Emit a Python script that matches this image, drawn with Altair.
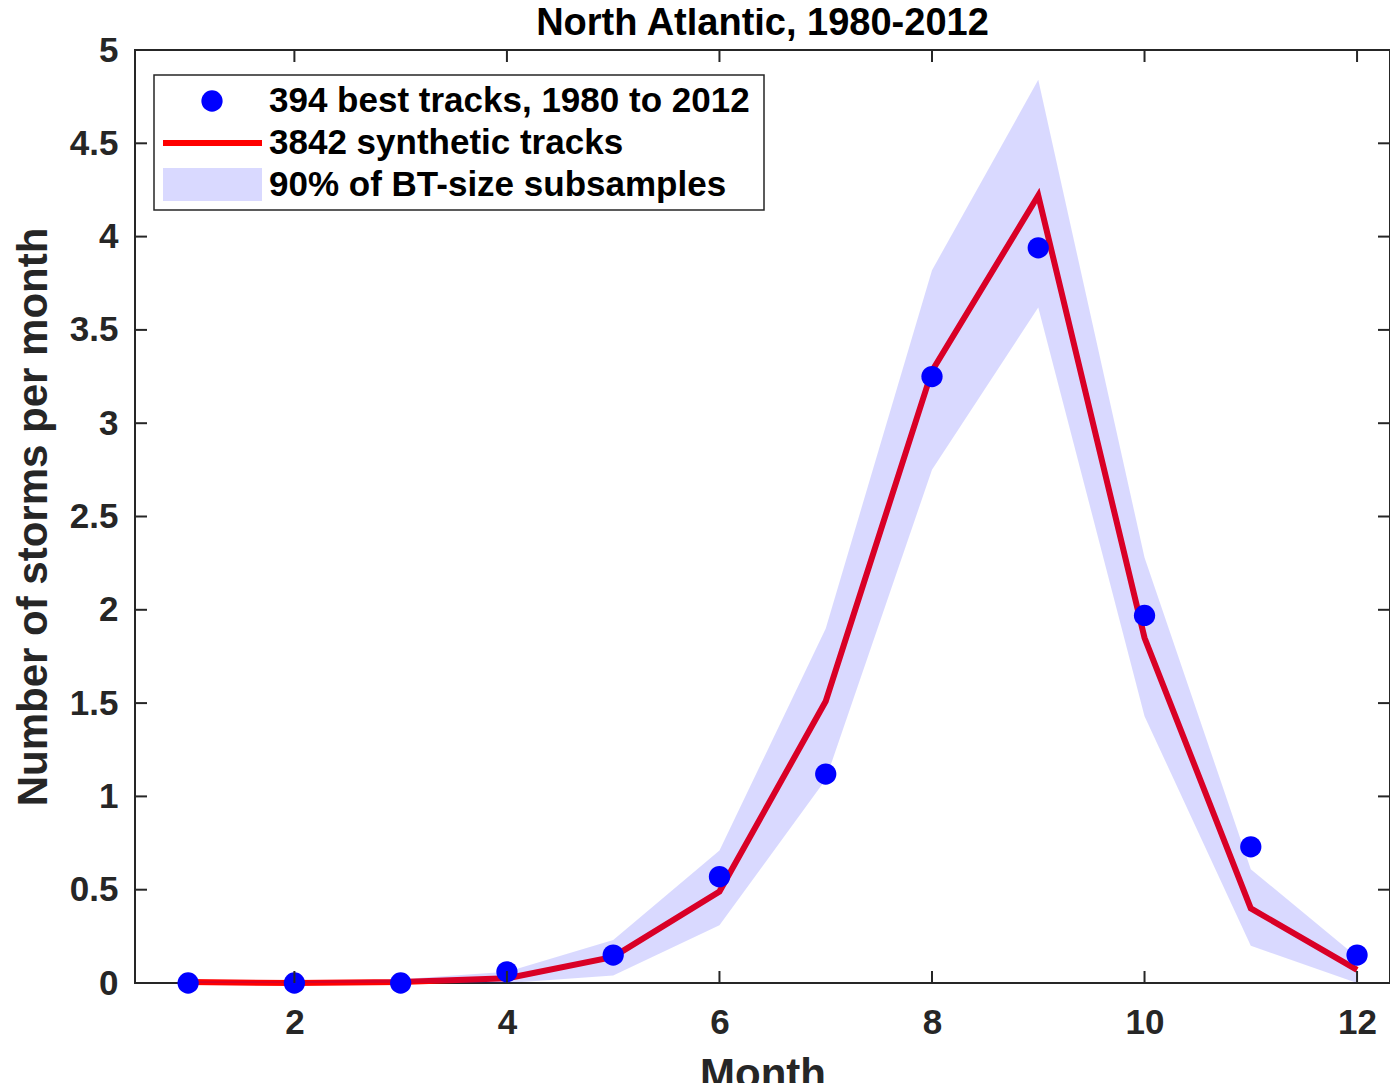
import altair as alt
import pandas as pd

# monthly values
months = list(range(1, 13))
best_tracks = [0.0, 0.0, 0.0, 0.06, 0.15, 0.57, 1.12, 3.25, 3.94, 1.97, 0.73, 0.15]
synthetic = [0.005, 0.0, 0.005, 0.025, 0.14, 0.49, 1.51, 3.28, 4.22, 1.85, 0.40, 0.07]
band_low = [0.0, 0.0, 0.0, 0.0, 0.04, 0.31, 1.09, 2.75, 3.62, 1.43, 0.20, 0.0]
band_high = [0.01, 0.01, 0.02, 0.06, 0.23, 0.71, 1.90, 3.82, 4.84, 2.28, 0.61, 0.14]

x_ticks = [2, 4, 6, 8, 10, 12]
y_ticks = [0, 0.5, 1, 1.5, 2, 2.5, 3, 3.5, 4, 4.5, 5]

legend_labels = [
    "394 best tracks, 1980 to 2012",
    "3842 synthetic tracks",
    "90% of BT-size subsamples",
]

# CONFIGURATION
W = 1255
H = 933
TICK = 12
FONT = "Liberation Sans"
AXIS_GRAY = "#262626"

df = pd.DataFrame({
    "month": months,
    "best": best_tracks,
    "synth": synthetic,
    "lo": band_low,
    "hi": band_high,
})
xt = pd.DataFrame({"month": x_ticks})
yt = pd.DataFrame({"synth": y_ticks})
one = pd.DataFrame({"k": [0]})

x_scale = alt.Scale(domain=[0.5, 12.31], nice=False, zero=False)
y_scale = alt.Scale(domain=[0, 5], nice=False)

x_axis = alt.Axis(
    values=x_ticks, tickSize=0, domain=False, grid=False,
    labelFont=FONT, labelFontSize=35, labelFontWeight="bold", labelColor=AXIS_GRAY,
    labelPadding=22, titleFont=FONT, titleFontSize=42,
    titleFontWeight="bold", titleColor=AXIS_GRAY, titlePadding=14,
)
y_axis = alt.Axis(
    values=y_ticks, format="~g", tickSize=0, domain=False, grid=False,
    labelFont=FONT, labelFontSize=35, labelFontWeight="bold", labelColor=AXIS_GRAY,
    labelPadding=17, titleFont=FONT,
    titleFontSize=42, titleFontWeight="bold", titleColor=AXIS_GRAY, titlePadding=14,
)

X = alt.X("month:Q", scale=x_scale, axis=x_axis, title="Month")


def Y(field):
    return alt.Y(field, scale=y_scale, axis=y_axis, title="Number of storms per month")


base = alt.Chart(df).encode(x=X)

# red line goes under the band, dots on top
synth_line = base.mark_line(color="#FF0000", strokeWidth=6).encode(y=Y("synth:Q"))
band = base.mark_area(color="#0000FF", opacity=0.15).encode(y=Y("lo:Q"), y2="hi:Q")
dots = base.mark_circle(size=452, color="#0000FF", opacity=1).encode(y=Y("best:Q"))

# inward ticks on all four sides
x_tick_top = alt.Chart(xt).mark_rule(color=AXIS_GRAY, strokeWidth=2).encode(
    x=X, y=alt.value(0), y2=alt.value(TICK)
)
x_tick_bot = alt.Chart(xt).mark_rule(color=AXIS_GRAY, strokeWidth=2).encode(
    x=X, y=alt.value(H), y2=alt.value(H - TICK)
)
y_tick_left = alt.Chart(yt).mark_rule(color=AXIS_GRAY, strokeWidth=2).encode(
    y=Y("synth:Q"), x=alt.value(0), x2=alt.value(TICK)
)
y_tick_right = alt.Chart(yt).mark_rule(color=AXIS_GRAY, strokeWidth=2).encode(
    y=Y("synth:Q"), x=alt.value(W), x2=alt.value(W - TICK)
)

# legend box, drawn by hand
leg_box = alt.Chart(one).mark_rect(fill="white", stroke=AXIS_GRAY, strokeWidth=1.5).encode(
    x=alt.value(19), x2=alt.value(629), y=alt.value(25), y2=alt.value(160)
)
leg_dot = alt.Chart(one).mark_circle(size=452, color="#0000FF", opacity=1).encode(
    x=alt.value(77), y=alt.value(51)
)
leg_line = alt.Chart(one).mark_rule(color="#FF0000", strokeWidth=6).encode(
    x=alt.value(28), x2=alt.value(127), y=alt.value(93)
)
leg_band = alt.Chart(one).mark_rect(fill="#0000FF", opacity=0.15).encode(
    x=alt.value(28), x2=alt.value(127), y=alt.value(118), y2=alt.value(151)
)
leg_texts = [
    alt.Chart(one).mark_text(
        text=lab, align="left", baseline="middle", font=FONT, fontSize=35,
        fontWeight="bold", color="black",
    ).encode(x=alt.value(134), y=alt.value(yy))
    for lab, yy in zip(legend_labels, [51, 93, 135])
]

chart = alt.layer(
    synth_line, band, dots,
    x_tick_top, x_tick_bot, y_tick_left, y_tick_right,
    leg_box, leg_band, leg_line, leg_dot, *leg_texts,
).properties(
    width=W,
    height=H,
    autosize="none",
    padding={"left": 127, "top": 42, "right": 0, "bottom": 100},
    title=alt.TitleParams(
        "North Atlantic, 1980-2012", font=FONT, fontSize=38, fontWeight="bold",
        color="black", anchor="middle", frame="group", offset=-10,
    ),
).configure_view(
    stroke=AXIS_GRAY, strokeWidth=2
)

chart.save("out.html", embed_options={"renderer": "svg", "actions": False})
